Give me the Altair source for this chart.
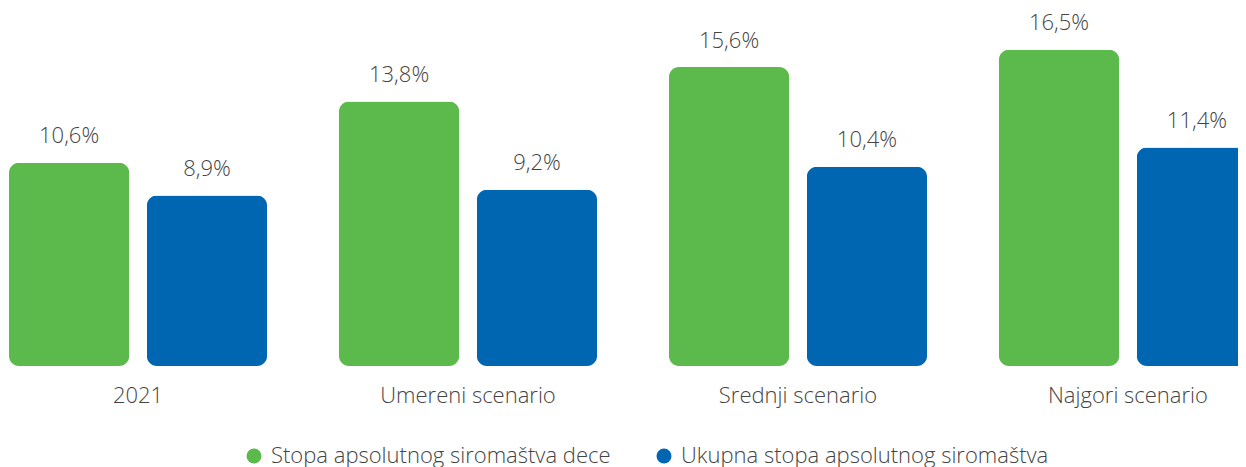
import altair as alt
import pandas as pd

categories = ["2021", "Umereni scenario", "Srednji scenario", "Najgori scenario"]
series = ["Stopa apsolutnog siromaštva dece", "Ukupna stopa apsolutnog siromaštva"]
child_rate = [10.6, 13.8, 15.6, 16.5]
total_rate = [8.9, 9.2, 10.4, 11.4]
colors = ["#5cb94b", "#0066b2"]

rows = []
for c, a, b in zip(categories, child_rate, total_rate):
    rows.append({"cat": c, "series": series[0], "value": a})
    rows.append({"cat": c, "series": series[1], "value": b})
df = pd.DataFrame(rows)
df["label"] = df["value"].map(lambda v: f"{v:.1f}".replace(".", ",") + "%")

FONT = "Open Sans"
WEIGHT = 300
FS = 22
TXT = "#444444"

x = alt.X(
    "cat:N",
    sort=categories,
    scale=alt.Scale(paddingInner=0.218, paddingOuter=0),
    axis=alt.Axis(
        title=None, domain=False, ticks=False, tickSize=0, grid=False,
        labelPadding=36, labelBaseline="alphabetic", labelAngle=0,
        labelFontSize=FS, labelFont=FONT, labelFontWeight=WEIGHT, labelColor=TXT,
    ),
)
xo = alt.XOffset("series:N", sort=series, scale=alt.Scale(paddingInner=0.128, paddingOuter=0))
y = alt.Y("value:Q", scale=alt.Scale(domain=[0, 18]), axis=None)
color = alt.Color(
    "series:N",
    sort=series,
    scale=alt.Scale(domain=series, range=colors),
    legend=alt.Legend(
        title=None, orient="none", legendX=234, legendY=424, direction="horizontal",
        symbolType="circle", symbolSize=225, symbolStrokeWidth=0,
        labelFontSize=FS, labelFont=FONT, labelFontWeight=WEIGHT, labelColor=TXT,
        labelOffset=6, columnPadding=42, labelLimit=600,
    ),
)

base = alt.Chart(df).encode(x=x, xOffset=xo)
bars = base.mark_bar(cornerRadius=10).encode(y=y, color=color)
text = base.mark_text(
    baseline="alphabetic", dy=-19.5, fontSize=FS, font=FONT, fontWeight=WEIGHT, color=TXT
).encode(y=y, text="label:N")

chart = (bars + text).properties(
    width=1248,
    height=345,
    padding={"left": 1, "right": -19, "top": 13, "bottom": 101},
    autosize=alt.AutoSizeParams(type="none"),
).configure_view(stroke=None)

chart.save("out.html", embed_options={"renderer": "svg", "actions": False})
